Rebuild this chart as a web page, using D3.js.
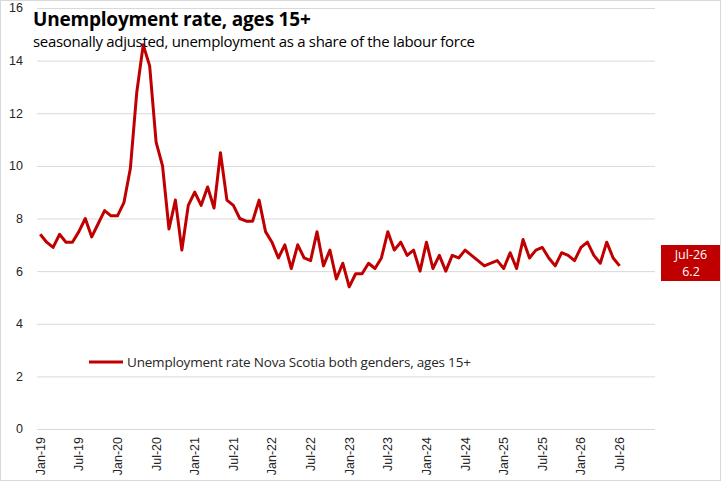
<!DOCTYPE html>
<html>
<head>
<meta charset="utf-8">
<script src="https://cdn.jsdelivr.net/npm/d3@7"></script>
<style>
  body { margin: 0; background: #fff; }
  svg { display: block; }
</style>
</head>
<body>
<svg id="chart" width="721" height="481"></svg>
<script>
// Nova Scotia unemployment rate, monthly Jan-19 .. Jul-26
const months = ["Jan", "Feb", "Mar", "Apr", "May", "Jun", "Jul", "Aug", "Sep", "Oct", "Nov", "Dec"];
const years = [19, 20, 21, 22, 23, 24, 25, 26];
const rate = [
  7.4, 7.1, 6.9, 7.4, 7.1, 7.1, 7.5, 8.0, 7.3, 7.8, 8.3, 8.1,
  8.1, 8.6, 9.9, 12.8, 14.6, 13.8, 10.9, 10.0, 7.6, 8.7, 6.8, 8.5,
  9.0, 8.5, 9.2, 8.4, 10.5, 8.7, 8.5, 8.0, 7.9, 7.9, 8.7, 7.5,
  7.1, 6.5, 7.0, 6.1, 7.0, 6.5, 6.4, 7.5, 6.2, 6.8, 5.7, 6.3,
  5.4, 5.9, 5.9, 6.3, 6.1, 6.5, 7.5, 6.8, 7.1, 6.6, 6.8, 6.0,
  7.1, 6.1, 6.6, 6.0, 6.6, 6.5, 6.8, 6.6, 6.4, 6.2, 6.3, 6.4,
  6.1, 6.7, 6.1, 7.2, 6.5, 6.8, 6.9, 6.5, 6.2, 6.7, 6.6, 6.4,
  6.9, 7.1, 6.6, 6.3, 7.1, 6.5, 6.2
];
const yTicks = [0, 2, 4, 6, 8, 10, 12, 14, 16];
const seriesName = "Unemployment rate Nova Scotia both genders, ages 15+";

// the axis runs to Dec-26, data stops at Jul-26
const categories = [];
years.forEach(y => months.forEach(m => categories.push(m + "-" + y)));
const data = rate.map((v, i) => ({ label: categories[i], value: v }));
const last = data[data.length - 1];

const svg = d3.select("#chart");
const W = 721, H = 481;
const plot = { left: 37, right: 655, top: 8, bottom: 429 };

svg.append("rect")
  .attr("x", 0.5).attr("y", 0.5)
  .attr("width", W - 1).attr("height", H - 1)
  .attr("fill", "#fff").attr("stroke", "#d9d9d9");

const x = d3.scaleBand()
  .domain(categories)
  .range([plot.left, plot.right]);

const y = d3.scaleLinear()
  .domain([0, 16])
  .range([plot.bottom, plot.top]);

// gridlines
svg.append("g")
  .selectAll("line")
  .data(yTicks)
  .join("line")
  .attr("x1", plot.left).attr("x2", plot.right)
  .attr("y1", d => y(d) + 0.5).attr("y2", d => y(d) + 0.5)
  .attr("stroke", "#d9d9d9").attr("stroke-width", 1);

// y labels
svg.append("g")
  .selectAll("text")
  .data(yTicks)
  .join("text")
  .attr("x", 23)
  .attr("y", d => y(d))
  .attr("dy", "0.35em")
  .attr("text-anchor", "end")
  .attr("font-family", "Liberation Sans, Arial, sans-serif")
  .attr("font-size", 12.5)
  .attr("fill", "#262626")
  .text(d => d);

// x labels every 6 months
const xLabels = categories.filter((c, i) => i % 6 === 0);
svg.append("g")
  .selectAll("text")
  .data(xLabels)
  .join("text")
  .attr("transform", d => `translate(${x(d) + x.bandwidth() / 2 + 4.5},${plot.bottom + 8}) rotate(-90)`)
  .attr("text-anchor", "end")
  .attr("font-family", "Liberation Sans, Arial, sans-serif")
  .attr("font-size", 12.5)
  .attr("fill", "#262626")
  .text(d => d);

// the line
const line = d3.line()
  .x(d => x(d.label) + x.bandwidth() / 2)
  .y(d => y(d.value));

svg.append("path")
  .datum(data)
  .attr("d", line)
  .attr("fill", "none")
  .attr("stroke", "#C00000")
  .attr("stroke-width", 3)
  .attr("stroke-linejoin", "round");

// titles
svg.append("text")
  .attr("x", 33).attr("y", 26)
  .attr("font-family", "Open Sans, sans-serif")
  .attr("font-size", 19)
  .attr("font-weight", "bold")
  .attr("fill", "#000")
  .attr("letter-spacing", -0.2)
  .text("Unemployment rate, ages 15+");

svg.append("text")
  .attr("x", 33).attr("y", 47)
  .attr("font-family", "Open Sans, sans-serif")
  .attr("font-size", 15)
  .attr("fill", "#000")
  .attr("letter-spacing", -0.3)
  .text("seasonally adjusted, unemployment as a share of the labour force");

// legend
svg.append("line")
  .attr("x1", 89).attr("x2", 123)
  .attr("y1", 362).attr("y2", 362)
  .attr("stroke", "#C00000").attr("stroke-width", 3);

svg.append("text")
  .attr("x", 127).attr("y", 362)
  .attr("dy", "0.35em")
  .attr("font-family", "Open Sans, sans-serif")
  .attr("font-size", 13.5)
  .attr("fill", "#262626")
  .attr("letter-spacing", -0.2)
  .text(seriesName);

// last value badge
const badge = svg.append("g").attr("transform", "translate(661,245)");
badge.append("rect")
  .attr("width", 59).attr("height", 36)
  .attr("fill", "#C00000");
badge.append("text")
  .attr("x", 30).attr("y", 14)
  .attr("text-anchor", "middle")
  .attr("font-family", "Open Sans, sans-serif")
  .attr("font-size", 12.5)
  .attr("fill", "#fff")
  .text(last.label);
badge.append("text")
  .attr("x", 30).attr("y", 31)
  .attr("text-anchor", "middle")
  .attr("font-family", "Open Sans, sans-serif")
  .attr("font-size", 12.5)
  .attr("fill", "#fff")
  .text(last.value.toFixed(1));
</script>
</body>
</html>
